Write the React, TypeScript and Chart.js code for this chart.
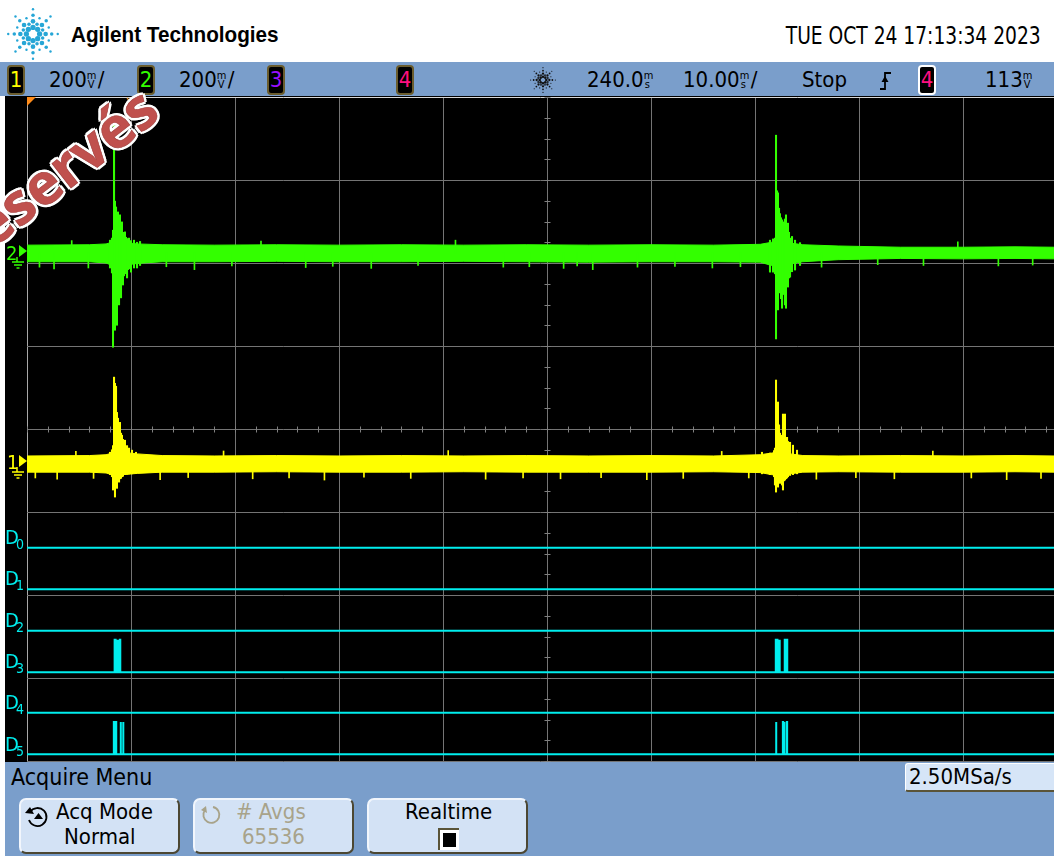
import React, { useEffect, useRef } from 'react';
import { Chart, registerables } from 'chart.js';

Chart.register(...registerables);

// ---------------- time base / vertical scale (from the status line) ----------------
const T_MIN = 190; // ms  (centre 240.0 ms, 10.00 ms/div)
const T_MAX = 288.75; // ms  right edge of the visible screen
const X_GRID = [190, 200, 210, 220, 230, 240, 250, 260, 270, 280];
const Y_GRID = [-4, -3, -2, -1, 0, 1, 2, 3, 4];
const X_MINOR = [190, 192, 194, 196, 198, 200, 202, 204, 206, 208, 210, 212, 214, 216, 218, 220, 222, 224, 226, 228, 230, 232, 234, 236, 238, 240, 242, 244, 246, 248, 250, 252, 254, 256, 258, 260, 262, 264, 266, 268, 270, 272, 274, 276, 278, 280, 282, 284, 286, 288];
const Y_MINOR = [-4, -3.75, -3.5, -3.25, -3, -2.75, -2.5, -2.25, -2, -1.75, -1.5, -1.25, -1, -0.75, -0.5, -0.25, 0, 0.25, 0.5, 0.75, 1, 1.25, 1.5, 1.75, 2, 2.25, 2.5, 2.75, 3, 3.25, 3.5, 3.75, 4];
const MV_PER_DIV = 200;
const CH1_POS = -0.4; // divisions (ground marker of channel 1)
const CH2_POS = 2.12; // divisions (ground marker of channel 2)

// ---------------- channel 2 (green), mV ----------------
const CH2_BAND_T = [190, 196, 197.6, 198.2, 199.2, 200.6, 203, 208, 214, 220, 226, 232, 238, 244, 250, 256, 260.5, 261.6, 262.2, 263.4, 264.6, 268, 274, 280, 285, 288.75];
const CH2_BAND_HI = [19, 20, 22, 26, 26, 22, 20, 19, 20, 19, 20, 19, 20, 19, 20, 19, 21, 26, 28, 24, 20, 17, 14, 14, 15, 14];
const CH2_BAND_LO = [-21, -21, -24, -30, -30, -25, -21, -21, -20, -21, -21, -20, -21, -22, -21, -21, -22, -30, -32, -26, -21, -16, -13, -14, -13, -14];
const CH2_BURST_T = [197.98, 198.08, 198.17, 198.27, 198.37, 198.46, 198.56, 198.65, 198.75, 198.85, 198.94, 199.04, 199.13, 199.23, 199.33, 199.42, 199.52, 199.62, 199.71, 199.81, 200.0, 200.29, 200.58, 200.87,
  261.44, 261.73, 261.92, 262.02, 262.12, 262.21, 262.31, 262.4, 262.5, 262.6, 262.69, 262.79, 262.88, 262.98, 263.08, 263.17, 263.27, 263.37, 263.56, 263.85, 264.33];
const CH2_BURST_LO = [-36, -31, -48, -227, -130, -186, -150, -174, -110, -125, -80, -108, -70, -77, -55, -50, -48, -60, -40, -38, -46, -36, -36, -30,
  -46, -46, -50, -207, -120, -137, -90, -96, -110, -133, -100, -80, -125, -133, -70, -82, -60, -58, -45, -41, -30];
const CH2_BURST_HI = [31, 29, 36, 55, 323, 125, 111, 60, 99, 70, 92, 60, 75, 50, 45, 51, 38, 35, 30, 36, 30, 31, 26, 28,
  31, 34, 36, 284, 150, 145, 108, 95, 85, 80, 75, 70, 82, 92, 60, 72, 50, 36, 40, 31, 25];
const CH2_GLITCH_T = [191.2, 192.6, 194.3, 195.9, 203.4, 206.1, 209.7, 212.5, 216.8, 219.4, 223.1, 227.6, 231.2, 235.8, 238.3, 241.6, 242.9, 244.4, 248.7, 252.3, 255.9, 258.6, 266.4, 271.8, 276.2, 279.5, 283.4, 286.7];
const CH2_GLITCH_V = [-34, -38, 30, -36, -33, -40, -31, 29, -35, -32, -37, -30, 31, -34, -33, -37, -31, -40, -34, -32, -36, -33, -34, -28, -30, 27, -31, -29];

// ---------------- channel 1 (yellow), mV ----------------
const CH1_BAND_T = [190, 196, 197.6, 198.2, 199.2, 200.6, 203, 208, 214, 220, 226, 232, 238, 244, 250, 256, 260.5, 261.6, 262.2, 263.4, 264.6, 268, 274, 280, 285, 288.75];
const CH1_BAND_HI = [15, 16, 18, 22, 24, 20, 16, 15, 16, 15, 16, 15, 16, 15, 16, 15, 18, 22, 24, 20, 16, 15, 16, 15, 16, 15];
const CH1_BAND_LO = [-24, -24, -26, -30, -30, -27, -24, -24, -23, -24, -24, -23, -24, -24, -24, -23, -25, -30, -32, -28, -24, -23, -24, -24, -23, -24];
const CH1_BURST_T = [197.98, 198.17, 198.27, 198.37, 198.46, 198.56, 198.65, 198.75, 198.85, 198.94, 199.04, 199.13, 199.23, 199.33, 199.42, 199.62, 199.81, 200.1, 200.48,
  260.67, 261.44, 261.83, 261.92, 262.02, 262.12, 262.21, 262.31, 262.4, 262.5, 262.6, 262.69, 262.79, 262.88, 262.98, 263.08, 263.17, 263.37, 263.65, 264.04];
const CH1_BURST_LO = [-30, -35, -67, -50, -84, -60, -63, -45, -48, -40, -39, -35, -34, -30, -30, -29, -28, -28, -26,
  -28, -30, -35, -55, -72, -50, -60, -45, -51, -40, -55, -67, -45, -43, -40, -38, -35, -32, -30, -28];
const CH1_BURST_HI = [24, 30, 40, 205, 190, 183, 120, 106, 85, 96, 70, 65, 55, 50, 53, 40, 34, 29, 24,
  24, 22, 28, 34, 198, 120, 145, 90, 70, 65, 60, 116, 70, 116, 60, 60, 50, 48, 41, 29];
const CH1_GLITCH_T = [190.8, 192.9, 194.7, 196.4, 202.8, 205.5, 208.9, 211.7, 215.2, 218.6, 222.4, 226.9, 230.5, 234.1, 237.7, 241.3, 245.2, 249.6, 253.1, 256.8, 259.4, 265.9, 269.7, 273.4, 277.1, 280.8, 284.2, 287.5];
const CH1_GLITCH_V = [-38, -41, 26, -39, -42, -37, 27, -40, -38, -43, -36, -39, 28, -41, -38, -40, -37, -42, -39, 26, -38, -41, -37, -40, 27, -38, -42, -39];

// ---------------- digital channels D0..D5 ----------------
const DIG_NAMES = ['0', '1', '2', '3', '4', '5'];
const DIG_LOW = [-1.43, -1.93, -2.43, -2.93, -3.42, -3.92]; // divisions
const DIG_HIGH = 0.39; // height of a logic "1" in divisions
const D0_RISE: number[] = [];
const D0_FALL: number[] = [];
const D1_RISE: number[] = [];
const D1_FALL: number[] = [];
const D2_RISE: number[] = [];
const D2_FALL: number[] = [];
const D3_RISE = [198.37, 198.46, 198.56, 198.66, 198.75, 198.93, 262.0, 262.1, 262.22, 262.33, 262.86, 263.06];
const D3_FALL = [198.42, 198.52, 198.62, 198.72, 198.82, 198.97, 262.05, 262.16, 262.27, 262.4, 262.9, 263.1];
const D4_RISE: number[] = [];
const D4_FALL: number[] = [];
const D5_RISE = [198.35, 198.55, 199.0, 199.24, 262.02, 262.68, 262.74, 262.8, 263.06];
const D5_FALL = [198.38, 198.58, 199.03, 199.27, 262.05, 262.71, 262.77, 262.84, 263.09];

// ---------------- colours ----------------
const GREEN = '#33ff00';
const YELLOW = '#ffff00';
const CYAN = '#00eeee';
const BLUE = '#7a9ecb';
const KEY = '#d3e2f5';
const GRID = '#747474';
const NARROW = '"Liberation Sans Narrow", "Arial Narrow", "DejaVu Sans Condensed", sans-serif';
const SANS = '"Liberation Sans", Arial, sans-serif';

const toDiv = (pos: number, mv: number) => pos + mv / MV_PER_DIV;
const bandPts = (ts: number[], vs: number[], pos: number) => ts.map((t, i) => ({ x: t, y: toDiv(pos, vs[i]) }));
const barPts = (ts: number[], lo: number[], hi: number[], pos: number) => ts.map((t, i) => ({ x: t, y: [toDiv(pos, lo[i]), toDiv(pos, hi[i])] }));
const glitchPts = (ts: number[], vs: number[], pos: number) => ts.map((t, i) => ({ x: t, y: [toDiv(pos, 0), toDiv(pos, vs[i])] }));
function digitalPts(low: number, rises: number[], falls: number[]) {
  const pts: { x: number; y: number }[] = [{ x: T_MIN, y: low }];
  rises.forEach((r, i) => {
    pts.push({ x: r, y: low }, { x: r, y: low + DIG_HIGH }, { x: falls[i], y: low + DIG_HIGH }, { x: falls[i], y: low });
  });
  pts.push({ x: T_MAX, y: low });
  return pts;
}

const centerTicks = {
  id: 'centerTicks',
  beforeDatasetsDraw(chart: any) {
    const { ctx, scales } = chart;
    const x = scales.x, y = scales.y;
    const cx = Math.round(x.getPixelForValue(240)) + 0.5;
    const cy = Math.round(y.getPixelForValue(0)) + 0.5;
    ctx.save();
    ctx.strokeStyle = '#808080';
    ctx.lineWidth = 1;
    ctx.beginPath();
    Y_MINOR.forEach((v) => {
      const py = Math.round(y.getPixelForValue(v)) + 0.5;
      ctx.moveTo(cx - 3, py);
      ctx.lineTo(cx + 3, py);
    });
    X_MINOR.forEach((t) => {
      const px = Math.round(x.getPixelForValue(t)) + 0.5;
      ctx.moveTo(px, cy - 3);
      ctx.lineTo(px, cy + 3);
    });
    ctx.stroke();
    ctx.restore();
  },
};

function Spark({ cx, cy, s, color }: { cx: number; cy: number; s: number; color: string }) {
  const dots: JSX.Element[] = [];
  const main = [[6, 2.4], [11.5, 2.1], [17, 1.6], [22.5, 1.1]];
  const mid = [[9.5, 1.6], [15.5, 1.1]];
  for (let k = 0; k < 8; k++) {
    const a = (k * Math.PI) / 4;
    main.forEach(([r, rad], j) => dots.push(<circle key={`m${k}${j}`} cx={cx + r * s * Math.cos(a)} cy={cy + r * s * Math.sin(a)} r={rad * s} fill={color} />));
    const b = a + Math.PI / 8;
    mid.forEach(([r, rad], j) => dots.push(<circle key={`n${k}${j}`} cx={cx + r * s * Math.cos(b)} cy={cy + r * s * Math.sin(b)} r={rad * s} fill={color} />));
  }
  return <>{dots}</>;
}

function Unit({ a, b }: { a: string; b: string }) {
  return (
    <span style={{ display: 'inline-block', position: 'relative', width: 11, height: 16, verticalAlign: '-1px' }}>
      <span style={{ position: 'absolute', left: 0, top: -1, fontSize: 11, lineHeight: '9px' }}>{a}</span>
      <span style={{ position: 'absolute', left: 1, top: 8, fontSize: 11, lineHeight: '9px' }}>{b}</span>
    </span>
  );
}

function T({ left, top, size = 22, color = '#000', family = NARROW, weight = 400, children }: any) {
  return (
    <div style={{ position: 'absolute', left, top, fontSize: size, lineHeight: `${size}px`, color, fontFamily: family, fontWeight: weight, whiteSpace: 'nowrap' }}>{children}</div>
  );
}

function ChBox({ left, label, color, border }: { left: number; label: string; color: string; border: string }) {
  return (
    <div style={{ position: 'absolute', left, top: 65, width: 18, height: 30, boxSizing: 'border-box', background: '#000', border: `2px solid ${border}`, borderRadius: 4, color, fontFamily: NARROW, fontSize: 22, lineHeight: '26px', textAlign: 'center' }}>{label}</div>
  );
}

function Key({ left, children }: any) {
  return (
    <div style={{ position: 'absolute', left, top: 798, width: 161, height: 56, boxSizing: 'border-box', background: KEY, borderRadius: 7, borderTop: '2px solid #f2f6fc', borderLeft: '2px solid #f2f6fc', borderRight: '2px solid #4c4732', borderBottom: '2px solid #4c4732' }}>{children}</div>
  );
}

export default function App() {
  const ref = useRef<HTMLCanvasElement>(null);
  useEffect(() => {
    document.body.style.margin = '0';
    const digital = [
      [D0_RISE, D0_FALL], [D1_RISE, D1_FALL], [D2_RISE, D2_FALL], [D3_RISE, D3_FALL], [D4_RISE, D4_FALL], [D5_RISE, D5_FALL],
    ].map(([r, f], i) => ({
      type: 'line', data: digitalPts(DIG_LOW[i], r, f), borderColor: CYAN, borderWidth: 2, pointRadius: 0, tension: 0, fill: false,
    }));
    const chart = new Chart(ref.current!, {
      type: 'line',
      data: {
        datasets: [
          { type: 'bar', data: barPts(CH2_BURST_T, CH2_BURST_LO, CH2_BURST_HI, CH2_POS), backgroundColor: GREEN, barThickness: 1.4, grouped: false, borderWidth: 0 },
          { type: 'bar', data: glitchPts(CH2_GLITCH_T, CH2_GLITCH_V, CH2_POS), backgroundColor: GREEN, barThickness: 1, grouped: false, borderWidth: 0 },
          { type: 'line', data: bandPts(CH2_BAND_T, CH2_BAND_HI, CH2_POS), borderColor: GREEN, borderWidth: 1, pointRadius: 0, fill: false },
          { type: 'line', data: bandPts(CH2_BAND_T, CH2_BAND_LO, CH2_POS), borderColor: GREEN, borderWidth: 1, pointRadius: 0, fill: '-1', backgroundColor: GREEN },
          { type: 'bar', data: barPts(CH1_BURST_T, CH1_BURST_LO, CH1_BURST_HI, CH1_POS), backgroundColor: YELLOW, barThickness: 1.4, grouped: false, borderWidth: 0 },
          { type: 'bar', data: glitchPts(CH1_GLITCH_T, CH1_GLITCH_V, CH1_POS), backgroundColor: YELLOW, barThickness: 1, grouped: false, borderWidth: 0 },
          { type: 'line', data: bandPts(CH1_BAND_T, CH1_BAND_HI, CH1_POS), borderColor: YELLOW, borderWidth: 1, pointRadius: 0, fill: false },
          { type: 'line', data: bandPts(CH1_BAND_T, CH1_BAND_LO, CH1_POS), borderColor: YELLOW, borderWidth: 1, pointRadius: 0, fill: '-1', backgroundColor: YELLOW },
          ...digital,
        ] as any,
      },
      options: {
        animation: false,
        responsive: false,
        maintainAspectRatio: false,
        layout: { padding: { left: 22, right: 0, top: 1, bottom: 1 } },
        plugins: { legend: { display: false }, tooltip: { enabled: false } },
        scales: {
          x: {
            type: 'linear', min: T_MIN, max: T_MAX, offset: false,
            afterBuildTicks: (a: any) => { a.ticks = X_GRID.map((v) => ({ value: v })); },
            ticks: { display: false },
            grid: { offset: false, drawTicks: false, lineWidth: 1, color: (c: any) => (c.tick && c.tick.value === T_MIN ? '#a8a8a8' : GRID) },
            border: { display: false },
          },
          y: {
            type: 'linear', min: -4, max: 4,
            afterBuildTicks: (a: any) => { a.ticks = Y_GRID.map((v) => ({ value: v })); },
            ticks: { display: false },
            grid: { drawTicks: false, lineWidth: 1, color: (c: any) => (c.tick && c.tick.value === 4 ? '#d8d8d8' : GRID) },
            border: { display: false },
          },
        },
      } as any,
      plugins: [centerTicks],
    } as any);
    return () => chart.destroy();
  }, []);

  const digLabelTops = [527, 568, 610, 651, 692, 734];

  return (
    <div style={{ position: 'relative', width: 1054, height: 856, overflow: 'hidden', background: '#fff', fontFamily: NARROW }}>
      {/* header */}
      <svg style={{ position: 'absolute', left: 0, top: 0 }} width={70} height={62}>
        <Spark cx={33} cy={34} s={1.1} color="#26a6d6" />
      </svg>
      <div style={{ position: 'absolute', left: 71, top: 24, fontSize: 22, lineHeight: '22px', fontFamily: SANS, fontWeight: 700, whiteSpace: 'nowrap', transform: 'scaleX(0.94)', transformOrigin: '0 0' }}>Agilent Technologies</div>
      <div style={{ position: 'absolute', right: 13, top: 24, fontSize: 24, lineHeight: '24px', fontFamily: NARROW, color: '#000', whiteSpace: 'nowrap', transform: 'scaleX(0.865)', transformOrigin: '100% 0' }}>TUE OCT 24 17:13:34 2023</div>

      {/* status line */}
      <div style={{ position: 'absolute', left: 0, top: 62, width: 1054, height: 34, background: BLUE }} />
      <ChBox left={7} label="1" color={YELLOW} border="#6b5d2e" />
      <T left={49} top={69}>200<Unit a="m" b="V" />/</T>
      <ChBox left={137} label="2" color={GREEN} border="#6b5d2e" />
      <T left={179} top={69}>200<Unit a="m" b="V" />/</T>
      <ChBox left={267} label="3" color="#9a10ff" border="#6b5d2e" />
      <ChBox left={396} label="4" color="#ff1080" border="#6b5d2e" />
      <svg style={{ position: 'absolute', left: 528, top: 65 }} width={30} height={30}>
        <Spark cx={15} cy={15} s={0.55} color="#111" />
      </svg>
      <T left={587} top={69}>240.0<Unit a="m" b="s" /></T>
      <T left={683} top={69}>10.00<Unit a="m" b="s" />/</T>
      <T left={802} top={69}>Stop</T>
      <svg style={{ position: 'absolute', left: 878, top: 70 }} width={18} height={22}>
        <path d="M2 19 H7 V3 H13" stroke="#000" strokeWidth={1.8} fill="none" />
        <path d="M3.5 12 L7 6 L10.5 12 Z" fill="#000" />
      </svg>
      <ChBox left={918} label="4" color="#ff1080" border="#ffffff" />
      <T left={985} top={69}>113<Unit a="m" b="V" /></T>

      {/* screen */}
      <div style={{ position: 'absolute', left: 5, top: 96, width: 1049, height: 666, background: '#000' }} />
      <canvas ref={ref} width={1049} height={666} style={{ position: 'absolute', left: 5, top: 96 }} />

      {/* left channel markers */}
      <T left={6} top={243} size={20} color={GREEN}>2</T>
      <svg style={{ position: 'absolute', left: 8, top: 244 }} width={22} height={26}>
        <path d="M11 1 L19 7 L11 13 Z" fill={GREEN} />
        <path d="M9 13 V18 M4 18 H16 M6 21 H14 M8.5 24 H11.5" stroke={GREEN} strokeWidth={1.5} />
      </svg>
      <T left={7} top={452} size={20} color={YELLOW}>1</T>
      <svg style={{ position: 'absolute', left: 8, top: 454 }} width={22} height={26}>
        <path d="M11 1 L19 7 L11 13 Z" fill={YELLOW} />
        <path d="M9 13 V18 M4 18 H16 M6 21 H14 M8.5 24 H11.5" stroke={YELLOW} strokeWidth={1.5} />
      </svg>
      {DIG_NAMES.map((n, i) => (
        <div key={n} style={{ position: 'absolute', left: 5, top: digLabelTops[i], color: CYAN, fontFamily: NARROW, whiteSpace: 'nowrap' }}>
          <span style={{ fontSize: 20, lineHeight: '20px' }}>D</span>
          <span style={{ position: 'absolute', left: 11, top: 10, fontSize: 14, lineHeight: '14px' }}>{n}</span>
        </div>
      ))}
      <svg style={{ position: 'absolute', left: 0, top: 96 }} width={160} height={14}>
        <path d="M27 1 H36 L27 10 Z" fill="#ff8c1a" />
        <path d="M127 2 L132.5 8 L138 2" stroke="#d88a2a" strokeWidth={1.3} fill="none" />
      </svg>

      {/* bottom menu */}
      <div style={{ position: 'absolute', left: 5, top: 762, width: 1049, height: 94, background: BLUE }} />
      <T left={11} top={766} size={23}>Acquire Menu</T>
      <div style={{ position: 'absolute', left: 905, top: 763, width: 149, height: 29, boxSizing: 'border-box', background: '#d6e5f7', borderTop: '1px solid #fff', borderLeft: '1px solid #fff', borderBottom: '2px solid #5a5438', borderRadius: '3px 0 0 3px' }}>
        <T left={3} top={2}>2.50MSa/s</T>
      </div>
      <Key left={19}>
        <svg style={{ position: 'absolute', left: 3, top: 4 }} width={26} height={24}>
          <path d="M6 8 A9 9 0 1 1 5 16" stroke="#000" strokeWidth={1.8} fill="none" />
          <path d="M1 9 L6 3 L10 10 Z" fill="#000" />
          <path d="M10 15 L14.5 9 L19 15 Z" fill="#000" />
        </svg>
        <T left={35} top={1}>Acq Mode</T>
        <T left={43} top={26}>Normal</T>
      </Key>
      <Key left={193}>
        <svg style={{ position: 'absolute', left: 3, top: 4 }} width={24} height={22}>
          <path d="M7 6 A8 8 0 1 0 15 3" stroke="#a8a38a" strokeWidth={1.8} fill="none" />
          <path d="M3 6 L8 2 L9 9 Z" fill="#a8a38a" />
        </svg>
        <T left={41} top={1} color="#a8a38a"># Avgs</T>
        <T left={47} top={26} color="#a8a38a">65536</T>
      </Key>
      <Key left={367}>
        <T left={36} top={1}>Realtime</T>
        <div style={{ position: 'absolute', left: 69, top: 28, width: 21, height: 22, boxSizing: 'border-box', background: '#fff', borderTop: '2px solid #5a5438', borderLeft: '2px solid #5a5438', padding: 3 }}>
          <div style={{ width: 13, height: 14, background: '#000' }} />
        </div>
      </Key>

      {/* watermark */}
      <div style={{ position: 'absolute', left: -24, top: 214, transform: 'rotate(-38deg)', transformOrigin: '0 100%', fontFamily: '"Open Sans", sans-serif', fontWeight: 700, fontSize: 57, lineHeight: '57px', color: '#c0504d', whiteSpace: 'nowrap', textShadow: '-2px -2px 0 #fff, 2px -2px 0 #fff, -2px 2px 0 #fff, 2px 2px 0 #fff, 0 3px 0 #fff, 3px 0 0 #fff, -3px 0 0 #fff, 0 -3px 0 #fff', WebkitTextStroke: '0.6px #a03c3a' }}>réservés</div>
    </div>
  );
}
